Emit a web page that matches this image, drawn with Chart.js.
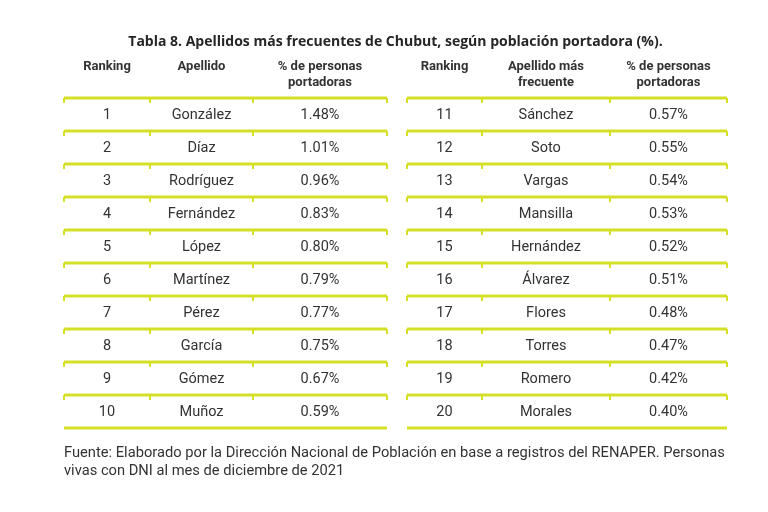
<!DOCTYPE html>
<html lang="es">
<head>
<meta charset="utf-8">
<script src="https://cdn.jsdelivr.net/npm/chart.js@4.4.0/dist/chart.umd.min.js"></script>
<style>
    html, body { margin: 0; padding: 0; background: #fff; }
</style>
</head>
<body>
<canvas id="tablaApellidos" width="768" height="512"></canvas>
<script>
const titulo = "Tabla 8. Apellidos más frecuentes de Chubut, según población portadora (%).";
const encabezadosIzq = [["Ranking"], ["Apellido"], ["% de personas", "portadoras"]];
const encabezadosDer = [["Ranking"], ["Apellido más", "frecuente"], ["% de personas", "portadoras"]];
const ranking = [1, 2, 3, 4, 5, 6, 7, 8, 9, 10, 11, 12, 13, 14, 15, 16, 17, 18, 19, 20];
const apellidos = ["González", "Díaz", "Rodríguez", "Fernández", "López", "Martínez", "Pérez", "García", "Gómez", "Muñoz",
    "Sánchez", "Soto", "Vargas", "Mansilla", "Hernández", "Álvarez", "Flores", "Torres", "Romero", "Morales"];
const porcentajes = [1.48, 1.01, 0.96, 0.83, 0.80, 0.79, 0.77, 0.75, 0.67, 0.59,
    0.57, 0.55, 0.54, 0.53, 0.52, 0.51, 0.48, 0.47, 0.42, 0.40];
const fuente = [
    "Fuente: Elaborado por la Dirección Nacional de Población en base a registros del RENAPER. Personas",
    "vivas con DNI al mes de diciembre de 2021"
];

// bordes de columnas (en unidades del eje x) y filas por tabla
const bordesIzq = [0, 86, 189, 323];
const bordesDer = [343, 418, 546, 663];
const filasPorTabla = 10;
const colorLinea = "#d4df26";
const colorTexto = "#333333";
const fuenteTexto = "Roboto, 'Noto Sans', sans-serif";

function generarLineas(bordes) {
    const datos = [];
    for (let i = 0; i <= filasPorTabla; i++) {
        datos.push({ x: bordes[0], y: i }, { x: bordes[bordes.length - 1], y: i }, { x: bordes[0], y: null });
    }
    return datos;
}

function generarMarcas(bordes) {
    const datos = [];
    for (let i = 0; i < filasPorTabla; i++) {
        bordes.forEach(b => {
            datos.push({ x: b, y: i }, { x: b, y: i + 0.15 }, { x: b, y: null });
        });
    }
    return datos;
}

function generarDataset(data, width) {
    return {
        data,
        showLine: true,
        spanGaps: false,
        borderColor: colorLinea,
        borderWidth: width,
        pointRadius: 0,
        clip: false
    };
}

function centros(bordes) {
    return bordes.slice(0, -1).map((b, i) => (b + bordes[i + 1]) / 2);
}

const textoTabla = {
    id: "textoTabla",
    afterDatasetsDraw(chart) {
        const { ctx, scales: { x, y } } = chart;
        ctx.save();
        ctx.textBaseline = "middle";
        ctx.textAlign = "center";

        // titulo
        ctx.fillStyle = "#262626";
        ctx.font = "bold 14px 'Open Sans', " + fuenteTexto;
        ctx.fillText(titulo, x.getPixelForValue((bordesIzq[0] + bordesDer[3]) / 2), y.getPixelForValue(-1.7));

        // encabezados
        ctx.fillStyle = colorTexto;
        ctx.font = "bold 13px " + fuenteTexto;
        [[bordesIzq, encabezadosIzq], [bordesDer, encabezadosDer]].forEach(([bordes, enc]) => {
            centros(bordes).forEach((cx, c) => {
                enc[c].forEach((linea, l) => {
                    ctx.fillText(linea, x.getPixelForValue(cx), y.getPixelForValue(-0.94 + l * 0.49));
                });
            });
        });

        // filas
        ctx.font = "14.5px " + fuenteTexto;
        ranking.forEach((r, i) => {
            const bordes = i < filasPorTabla ? bordesIzq : bordesDer;
            const cs = centros(bordes);
            const py = y.getPixelForValue((i % filasPorTabla) + 0.53);
            ctx.fillText(String(r), x.getPixelForValue(cs[0]), py);
            ctx.fillText(apellidos[i], x.getPixelForValue(cs[1]), py);
            ctx.fillText(porcentajes[i].toFixed(2) + "%", x.getPixelForValue(cs[2]), py);
        });

        // fuente
        ctx.textAlign = "left";
        ctx.font = "14.7px " + fuenteTexto;
        fuente.forEach((linea, l) => {
            ctx.fillText(linea, x.getPixelForValue(bordesIzq[0]), y.getPixelForValue(10.76 + l * 0.56));
        });
        ctx.restore();
    }
};

new Chart(document.getElementById("tablaApellidos").getContext("2d"), {
    type: "scatter",
    data: {
        datasets: [
            generarDataset(generarLineas(bordesIzq), 3),
            generarDataset(generarLineas(bordesDer), 3),
            generarDataset(generarMarcas(bordesIzq), 2),
            generarDataset(generarMarcas(bordesDer), 2)
        ]
    },
    options: {
        responsive: false,
        animation: false,
        layout: { padding: { left: 64, right: 41, top: 98, bottom: 84 } },
        plugins: { legend: { display: false }, tooltip: { enabled: false } },
        scales: {
            x: { type: "linear", min: bordesIzq[0], max: bordesDer[3], display: false },
            y: { type: "linear", min: 0, max: filasPorTabla, reverse: true, display: false }
        }
    },
    plugins: [textoTabla]
});
</script>
</body>
</html>
